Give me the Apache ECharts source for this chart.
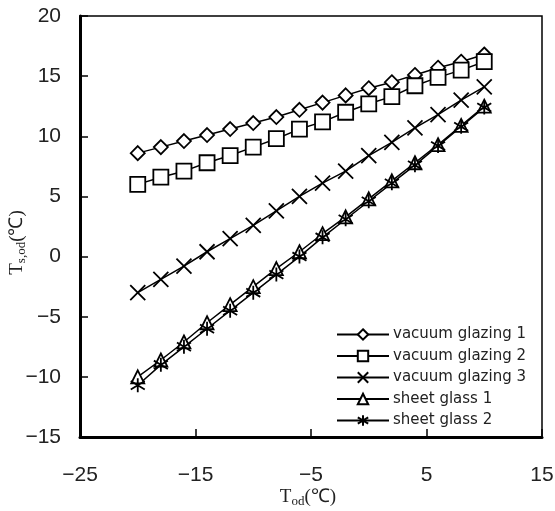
<!DOCTYPE html>
<html><head><meta charset="utf-8">
<script src="https://cdn.jsdelivr.net/npm/echarts@6/dist/echarts.min.js"></script>
<style>html,body{margin:0;padding:0;background:#fff}#c{width:555px;height:511px}</style>
</head><body><div id="c"></div>
<script>
const tOd = [-20,-18,-16,-14,-12,-10,-8,-6,-4,-2,0,2,4,6,8,10];
const vacuum1 = [8.6,9.1,9.6,10.1,10.6,11.1,11.6,12.2,12.8,13.4,14.0,14.5,15.1,15.7,16.2,16.8];
const vacuum2 = [6.0,6.6,7.1,7.8,8.4,9.1,9.8,10.6,11.2,12.0,12.7,13.3,14.2,14.9,15.5,16.2];
const vacuum3 = [-3.0,-1.9,-0.8,0.4,1.5,2.6,3.8,5.0,6.1,7.1,8.4,9.5,10.7,11.8,13.0,14.1];
const sheet1 = [-10.0,-8.6,-7.1,-5.5,-4.0,-2.5,-1.0,0.4,1.9,3.3,4.8,6.3,7.8,9.3,10.9,12.5];
const sheet2 = [-10.7,-9.0,-7.5,-6.0,-4.5,-3.0,-1.5,0.0,1.6,3.1,4.6,6.1,7.6,9.2,10.8,12.4];
const seriesNames = ['vacuum glazing 1','vacuum glazing 2','vacuum glazing 3','sheet glass 1','sheet glass 2'];

const symbols = [
  {symbol:'diamond', size:[14,14]},
  {symbol:'rect', size:[15,15]},
  {symbol:'path://M0,0L10,10M10,0L0,10', size:[15,15]},
  {symbol:'triangle', size:[13,13]},
  {symbol:'path://M5,0L5,10M0,2L10,8M0,8L10,2', size:[14,14]}
];
const all = [vacuum1, vacuum2, vacuum3, sheet1, sheet2];
const series = all.map((vals, i) => ({
  name: seriesNames[i],
  type: 'line',
  data: tOd.map((x, j) => [x, vals[j]]),
  symbol: symbols[i].symbol,
  symbolSize: symbols[i].size,
  showSymbol: true,
  lineStyle: {color:'#000', width:1.5},
  itemStyle: {color:'#fff', borderColor:'#000', borderWidth:1.8},
  emphasis: {disabled:true},
  animation: false
}));

const chart = echarts.init(document.getElementById('c'), null, {renderer:'canvas'});
chart.setOption({
  animation: false,
  backgroundColor: '#fff',
  grid: {left:80, top:16, right:13, bottom:74, show:true, borderColor:'#000', borderWidth:1.5,
    backgroundColor:'transparent', containLabel:false, outerBoundsMode:'none'},
  legend: {
    orient:'vertical', left:336, top:327, padding:0, itemGap:6.5, itemWidth:52, itemHeight:13,
    textStyle:{fontFamily:'DejaVu Sans', fontSize:15, color:'#222', padding:[0,0,0,-1]},
    data: seriesNames
  },
  xAxis: {
    type:'value', min:-25, max:15, interval:10,
    axisLine:{show:true, onZero:false, lineStyle:{color:'#000', width:3}},
    axisTick:{show:true, inside:true, length:8, lineStyle:{color:'#000', width:1.5}},
    splitLine:{show:false},
    axisLabel:{fontFamily:'Liberation Sans', fontSize:21, color:'#222', margin:28,
      formatter: v => (v < 0 ? '\u2212' + Math.abs(v) : String(v))},
    name:'T{sub|od}(\u2103)', nameLocation:'middle', nameGap:50, nameMoveOverlap:false,
    nameTextStyle:{fontFamily:'Liberation Serif', fontSize:19, color:'#222', padding:[0,6,0,0],
      rich:{sub:{fontFamily:'Liberation Serif', fontSize:13, verticalAlign:'bottom', padding:[8,0,0,0], color:'#222'}}}
  },
  yAxis: {
    type:'value', min:-15, max:20, interval:5,
    axisLine:{show:true, onZero:false, lineStyle:{color:'#000', width:3}},
    axisTick:{show:true, inside:true, length:8, lineStyle:{color:'#000', width:1.5}},
    splitLine:{show:false},
    axisLabel:{fontFamily:'Liberation Sans', fontSize:21, color:'#222', margin:19,
      formatter: v => (v < 0 ? '\u2212' + Math.abs(v) : String(v))},
    name:'T{sub|s,od}(\u2103)', nameLocation:'middle', nameGap:52, nameRotate:90, nameMoveOverlap:false,
    nameTextStyle:{fontFamily:'Liberation Serif', fontSize:19, color:'#222', padding:[0,32,0,0],
      rich:{sub:{fontFamily:'Liberation Serif', fontSize:13, verticalAlign:'bottom', padding:[8,0,0,0], color:'#222'}}}
  },
  series: series
});
</script>
</body></html>
